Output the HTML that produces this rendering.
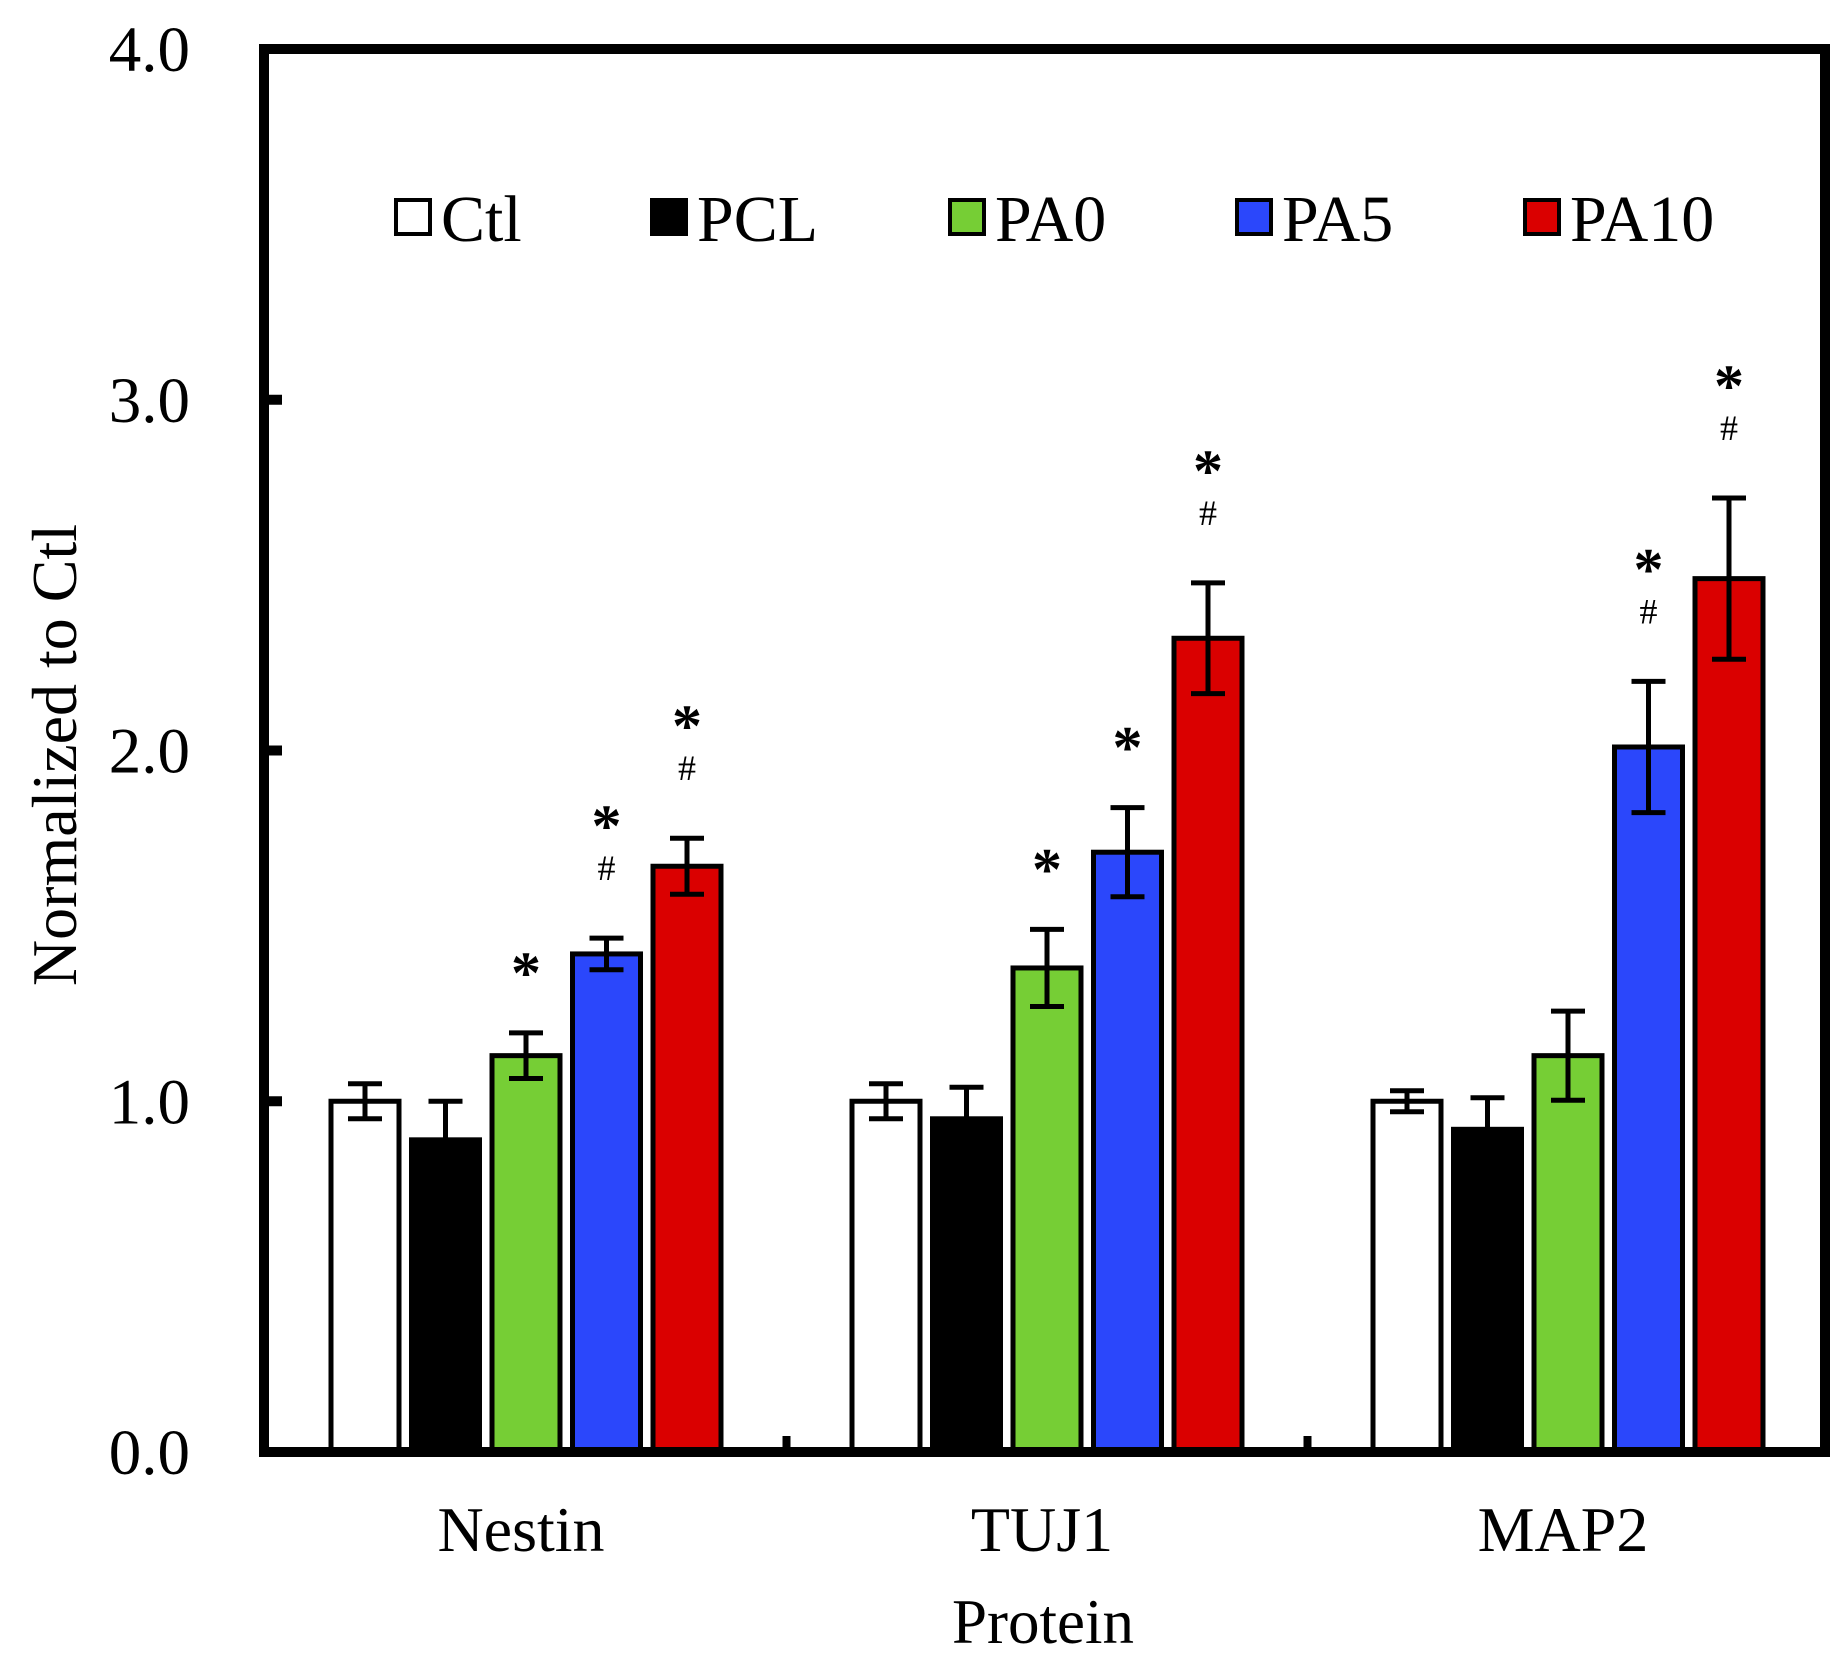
<!DOCTYPE html>
<html><head><meta charset="utf-8"><style>
html,body{margin:0;padding:0;background:#fff;}
svg{display:block;font-family:"Liberation Serif",serif;}
</style></head><body>
<svg id="chart" width="1840" height="1673" viewBox="0 0 1840 1673" xmlns="http://www.w3.org/2000/svg">
<g id="bars"></g>
<g id="axes"></g>
<g id="legend"></g>
</svg>
<script>
const categories = ["Nestin", "TUJ1", "MAP2"];
const seriesNames = ["Ctl", "PCL", "PA0", "PA5", "PA10"];
const seriesColors = ["#ffffff", "#000000", "#76CE35", "#2B47FB", "#DA0000"];
const ctlValues = [1.0, 1.0, 1.0];
const pclValues = [0.89, 0.95, 0.92];
const pa0Values = [1.13, 1.38, 1.13];
const pa5Values = [1.42, 1.71, 2.01];
const pa10Values = [1.67, 2.32, 2.49];
const ctlErr = [0.05, 0.05, 0.03];
const pclErr = [0.11, 0.09, 0.09];
const pa0Err = [0.065, 0.11, 0.127];
const pa5Err = [0.045, 0.127, 0.187];
const pa10Err = [0.08, 0.158, 0.23];
const ctlSig = ["", "", ""];
const pclSig = ["", "", ""];
const pa0Sig = ["*", "*", ""];
const pa5Sig = ["*#", "*", "*#"];
const pa10Sig = ["*#", "*#", "*#"];
const yTicks = [0, 1, 2, 3, 4];
const yTickLabels = ["0.0", "1.0", "2.0", "3.0", "4.0"];

const values = [ctlValues, pclValues, pa0Values, pa5Values, pa10Values];
const errs = [ctlErr, pclErr, pa0Err, pa5Err, pa10Err];
const sigs = [ctlSig, pclSig, pa0Sig, pa5Sig, pa10Sig];

const NS = "http://www.w3.org/2000/svg";
const X0 = 264, X1 = 1825, Y0 = 1452, YTOP = 49;
function yScale(v){ return Y0 - (Y0 - YTOP) * v / 4; }
const groupStart = 331, groupStep = 521, barPitch = 80.5, barW = 68;
function xBar(ci, si){ return groupStart + ci * groupStep + si * barPitch; }

function mk(tag, attrs, parent){
  const e = document.createElementNS(NS, tag);
  for (const k in attrs) e.setAttribute(k, attrs[k]);
  parent.appendChild(e);
  return e;
}
const gB = document.getElementById("bars");
const gA = document.getElementById("axes");
const gL = document.getElementById("legend");

for (let ci = 0; ci < categories.length; ci++){
  for (let si = 0; si < seriesNames.length; si++){
    const v = values[si][ci], er = errs[si][ci];
    const x = xBar(ci, si), y = yScale(v);
    const r = mk("rect", {x: x, y: y, width: barW, height: Y0 - y, fill: seriesColors[si], stroke: "#000", "stroke-width": 5}, gB);
    
    
    const cx = x + barW / 2, yt = yScale(v + er), yb = yScale(v - er);
    const eg = mk("g", {stroke: "#000", "stroke-width": 5}, gB);
    
    
    mk("line", {x1: cx, x2: cx, y1: yt, y2: yb}, eg);
    mk("line", {x1: cx - 17, x2: cx + 17, y1: yt, y2: yt}, eg);
    mk("line", {x1: cx - 17, x2: cx + 17, y1: yb, y2: yb}, eg);
    const s = sigs[si][ci];
    if (s === "*"){
      const t = mk("text", {x: cx, y: yt - 40, "text-anchor": "middle", "font-size": 60, "font-weight": "bold"}, gB);
      t.textContent = "*";
      
      
    } else if (s === "*#"){
      const h = mk("text", {x: cx, y: yt - 58, "text-anchor": "middle", "font-size": 36}, gB);
      h.textContent = "#";
      
      
      const t = mk("text", {x: cx, y: yt - 92, "text-anchor": "middle", "font-size": 60, "font-weight": "bold"}, gB);
      t.textContent = "*";
      
      
    }
  }
  const cl = mk("text", {x: xBar(ci, 2) + barW / 2 - 5, y: 1551, "text-anchor": "middle", "font-size": 64}, gA);
  cl.textContent = categories[ci];
  
  
}
const fr = mk("rect", {x: X0, y: YTOP, width: X1 - X0, height: Y0 - YTOP, fill: "none", stroke: "#000", "stroke-width": 10}, gA);


for (let i = 0; i < yTicks.length; i++){
  const y = yScale(yTicks[i]);
  const tk = mk("line", {x1: X0, x2: X0 + 18, y1: y, y2: y, stroke: "#000", "stroke-width": 10}, gA);
  
  
  const tl = mk("text", {x: 190, y: y + 22, "text-anchor": "end", "font-size": 65}, gA);
  tl.textContent = yTickLabels[i];
  
  
}
for (let ci = 1; ci < categories.length; ci++){
  const x = (xBar(ci - 1, 4) + barW + xBar(ci, 0)) / 2;
  const tk = mk("line", {x1: x, x2: x, y1: Y0, y2: Y0 - 16, stroke: "#000", "stroke-width": 8}, gA);
  
  
}
const xt = mk("text", {x: 1043, y: 1643, "text-anchor": "middle", "font-size": 63}, gA);
xt.textContent = "Protein";


const yt = mk("text", {x: 0, y: 0, "text-anchor": "middle", "font-size": 64, transform: "translate(76,755) rotate(-90)"}, gA);
yt.textContent = "Normalized to Ctl";


const legX = [396, 652, 950, 1237, 1525];
for (let si = 0; si < seriesNames.length; si++){
  const g = mk("g", {}, gL);
  
  
  mk("rect", {x: legX[si], y: 200, width: 34, height: 34, fill: seriesColors[si], stroke: "#000", "stroke-width": 4}, g);
  const t = mk("text", {x: legX[si] + 45, y: 241, "font-size": 66}, g);
  t.textContent = seriesNames[si];
}
</script>
</body></html>
